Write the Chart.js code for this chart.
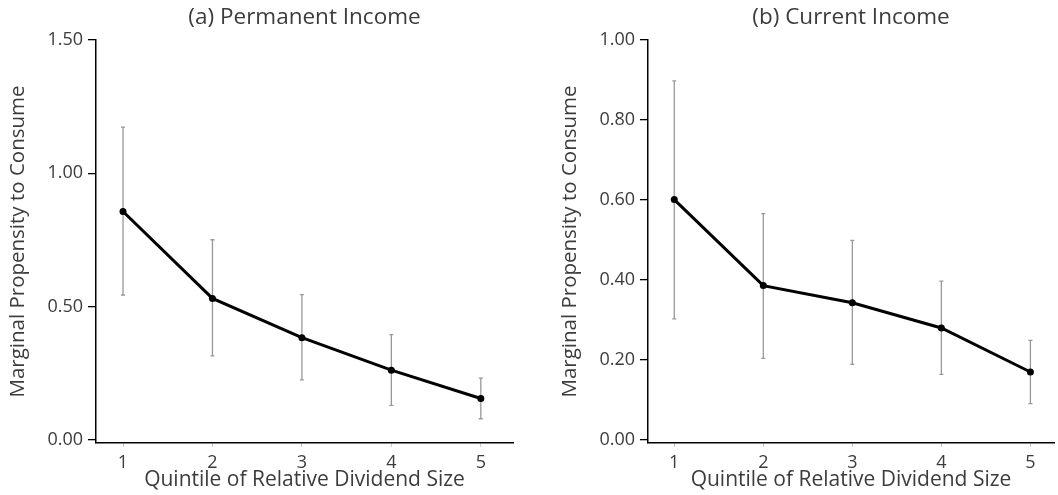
<!DOCTYPE html>
<html>
<head>
<meta charset="utf-8">
<script src="https://cdn.jsdelivr.net/npm/chart.js@4"></script>
<style>
html, body { margin: 0; padding: 0; background: #fff; overflow: hidden; }
#wrap { position: relative; width: 1058px; height: 495px; }
.box { position: absolute; top: 0; height: 495px; }
</style>
</head>
<body>
<div id="wrap">
   <div class="box" style="left:0;width:530px"><canvas id="permanent"></canvas></div>
   <div class="box" style="left:552px;width:506px"><canvas id="current"></canvas></div>
</div>
<script>
const quintiles = [1, 2, 3, 4, 5]

// (a) permanent income
const permanentMpc = [0.857, 0.531, 0.384, 0.262, 0.156]
const permanentLow = [0.544, 0.316, 0.226, 0.130, 0.080]
const permanentHigh = [1.173, 0.751, 0.545, 0.395, 0.232]
const permanentTicks = [0, 0.5, 1.0, 1.5]

// (b) current income
const currentMpc = [0.601, 0.386, 0.343, 0.280, 0.170]
const currentLow = [0.303, 0.204, 0.189, 0.164, 0.091]
const currentHigh = [0.898, 0.566, 0.499, 0.397, 0.249]
const currentTicks = [0, 0.2, 0.4, 0.6, 0.8, 1.0]

Chart.defaults.font.family = "'Open Sans', 'Noto Sans', sans-serif"
Chart.defaults.font.weight = 400
Chart.defaults.color = '#3c3c3c'

// gray confidence bars, drawn under the line
const errorBars = {
   id: 'errorBars',
   beforeDatasetsDraw(chart, args, opts) {
      const { ctx, scales: { x, y } } = chart
      ctx.save()
      ctx.strokeStyle = opts.color
      ctx.lineWidth = 1.3
      opts.low.forEach((lo, i) => {
         const px = x.getPixelForValue(quintiles[i])
         const top = y.getPixelForValue(opts.high[i])
         const bottom = y.getPixelForValue(lo)
         ctx.beginPath()
         ctx.moveTo(px, top); ctx.lineTo(px, bottom)
         ctx.moveTo(px - 2, top); ctx.lineTo(px + 2, top)
         ctx.moveTo(px - 2, bottom); ctx.lineTo(px + 2, bottom)
         ctx.stroke()
      })
      ctx.restore()
   }
}

function makeChart(el, title, values, low, high, yTicks, yMin, yMax, xMin, xMax, padRight) {
   return new Chart(el, {
      type: 'line',
      data: {
         datasets: [{
            data: quintiles.map((q, i) => ({ x: q, y: values[i] })),
            borderColor: '#000',
            backgroundColor: '#000',
            borderWidth: 3,
            pointRadius: 3.5,
            pointBorderWidth: 0,
            tension: 0
         }]
      },
      options: {
         responsive: true,
         maintainAspectRatio: false,
         animation: false,
         layout: { padding: { left: 0, right: padRight, top: 0, bottom: 0 } },
         scales: {
            x: {
               type: 'linear',
               min: xMin,
               max: xMax,
               afterBuildTicks: s => { s.ticks = quintiles.map(v => ({ value: v })) },
               afterFit: s => { s.height = 52 },
               ticks: { font: { size: 18 }, padding: 5 },
               grid: { drawOnChartArea: false, tickLength: 4, color: '#ccc' },
               border: { color: '#000', width: 1.5 },
               title: {
                  display: true,
                  text: 'Quintile of Relative Dividend Size',
                  font: { size: 21 },
                  padding: { top: 0, bottom: 2 }
               }
            },
            y: {
               type: 'linear',
               min: yMin,
               max: yMax,
               afterBuildTicks: s => { s.ticks = yTicks.map(v => ({ value: v })) },
               afterFit: s => { s.width = 96 },
               ticks: { font: { size: 18 }, padding: 5, callback: v => v.toFixed(2) },
               grid: { drawOnChartArea: false, tickLength: 8, color: '#000', lineWidth: 1.3 },
               border: { color: '#000', width: 1.5 },
               title: {
                  display: true,
                  text: 'Marginal Propensity to Consume',
                  font: { size: 20.5 },
                  padding: { top: 6, bottom: 0 }
               }
            }
         },
         plugins: {
            legend: { display: false },
            tooltip: { enabled: false },
            title: {
               display: true,
               text: title,
               fullSize: false,
               color: '#3c3c3c',
               font: { size: 22.5, weight: 400 },
               padding: { top: 4, bottom: 9 }
            },
            errorBars: { low: low, high: high, color: '#999' }
         }
      },
      plugins: [errorBars]
   })
}

makeChart(document.getElementById('permanent'), '(a) Permanent Income',
   permanentMpc, permanentLow, permanentHigh, permanentTicks, -0.011, 1.5, 0.698, 5.36, 17)
makeChart(document.getElementById('current'), '(b) Current Income',
   currentMpc, currentLow, currentHigh, currentTicks, -0.0075, 1.0, 0.705, 5.265, 0)
</script>
</body>
</html>
